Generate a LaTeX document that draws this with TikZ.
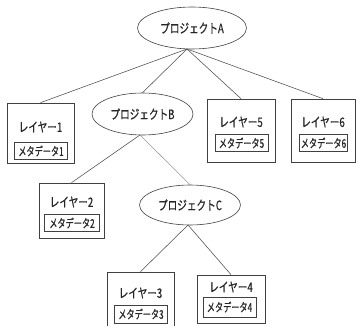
\documentclass[tikz,border=0pt]{standalone}
\usepackage{fontspec}
\usetikzlibrary{shapes.geometric}
\newfontfamily\jpfont[FakeStretch=0.74,FakeBold=0.5]{Noto Sans CJK JP}
\newfontfamily\jpnarrow[FakeStretch=0.68,FakeBold=0.5]{Noto Sans CJK JP}
\tikzset{
  proj/.style={draw=black!75, line width=0.6pt, ellipse, inner sep=0pt,
    font=\jpfont\fontsize{13}{14}\selectfont, text=black!85},
  layerbox/.style={draw=black!75, line width=0.65pt, rectangle, inner sep=0pt},
  layertext/.style={font=\jpfont\fontsize{13}{14}\selectfont, text=black!85, inner sep=0pt},
  metabox/.style={draw=black!75, line width=0.65pt, rectangle, inner sep=0pt,
    minimum width=53pt, minimum height=17pt,
    font=\jpnarrow\fontsize{12}{13}\selectfont, text=black!85},
  link/.style={draw=black!70, line width=0.55pt},
  faintlink/.style={draw=black!40, line width=0.55pt}
}
\begin{document}
\begin{tikzpicture}[x=1pt,y=-1pt]
  \useasboundingbox (0,0) rectangle (356,326);
  \clip (0,0) rectangle (356,326);

  % projects
  \node[proj, minimum width=109pt, minimum height=42pt] (pA) at (192,28) {プロジェクトA};
  \node[proj, minimum width=101pt, minimum height=42pt] (pB) at (142.5,114) {プロジェクトB};
  \node[proj, minimum width=101pt, minimum height=40pt] (pC) at (190,205) {プロジェクトC};

  % layer boxes
  \node[layerbox, minimum width=67pt, minimum height=60pt] (L1) at (40.5,133) {};
  \node[layertext] (L1t) at (40.5,127) {レイヤー1};
  \node[metabox] (M1) at (41,151) {メタデータ1};

  \node[layerbox, minimum width=65pt, minimum height=55pt] (L2) at (71.5,210.5) {};
  \node[layertext] (L2t) at (71.5,202) {レイヤー2};
  \node[metabox, minimum width=55pt] (M2) at (72,223) {メタデータ2};

  \node[layerbox, minimum width=68pt, minimum height=63pt] (L5) at (241,130.5) {};
  \node[layertext] (L5t) at (241,122) {レイヤー5};
  \node[metabox] (M5) at (241.5,143) {メタデータ5};

  \node[layerbox, minimum width=64pt, minimum height=63pt] (L6) at (323,130.5) {};
  \node[layertext] (L6t) at (323,122) {レイヤー6};
  \node[metabox, minimum width=48pt] (M6) at (323.5,143) {メタデータ6};

  \node[layerbox, minimum width=67pt, minimum height=64pt] (L3) at (140.5,304) {};
  \node[layertext] (L3t) at (140.5,293) {レイヤー3};
  \node[metabox, minimum height=18pt] (M3) at (141,314) {メタデータ3};

  \node[layerbox, minimum width=68pt, minimum height=48pt] (L4) at (231,299) {};
  \node[layertext] (L4t) at (231,287) {レイヤー4};
  \node[metabox, minimum height=20pt] (M4) at (229.5,307) {メタデータ4};

  % meeting points under the ellipses
  \coordinate (a0) at (187,49);
  \coordinate (b0) at (140,135);
  \coordinate (c0) at (188,225);

  % connectors
  \draw[link] (a0) -- (L1.north);
  \draw[link] (a0) -- (pB.north);
  \draw[link] (a0) -- (L5.north);
  \draw[link] (a0) -- (L6.north);
  \draw[link] (b0) -- (L2.north);
  \draw[faintlink] (b0) -- (pC.north);
  \draw[link] (c0) -- (L3.north);
  \draw[link] (c0) -- (L4.north);
\end{tikzpicture}
\end{document}
